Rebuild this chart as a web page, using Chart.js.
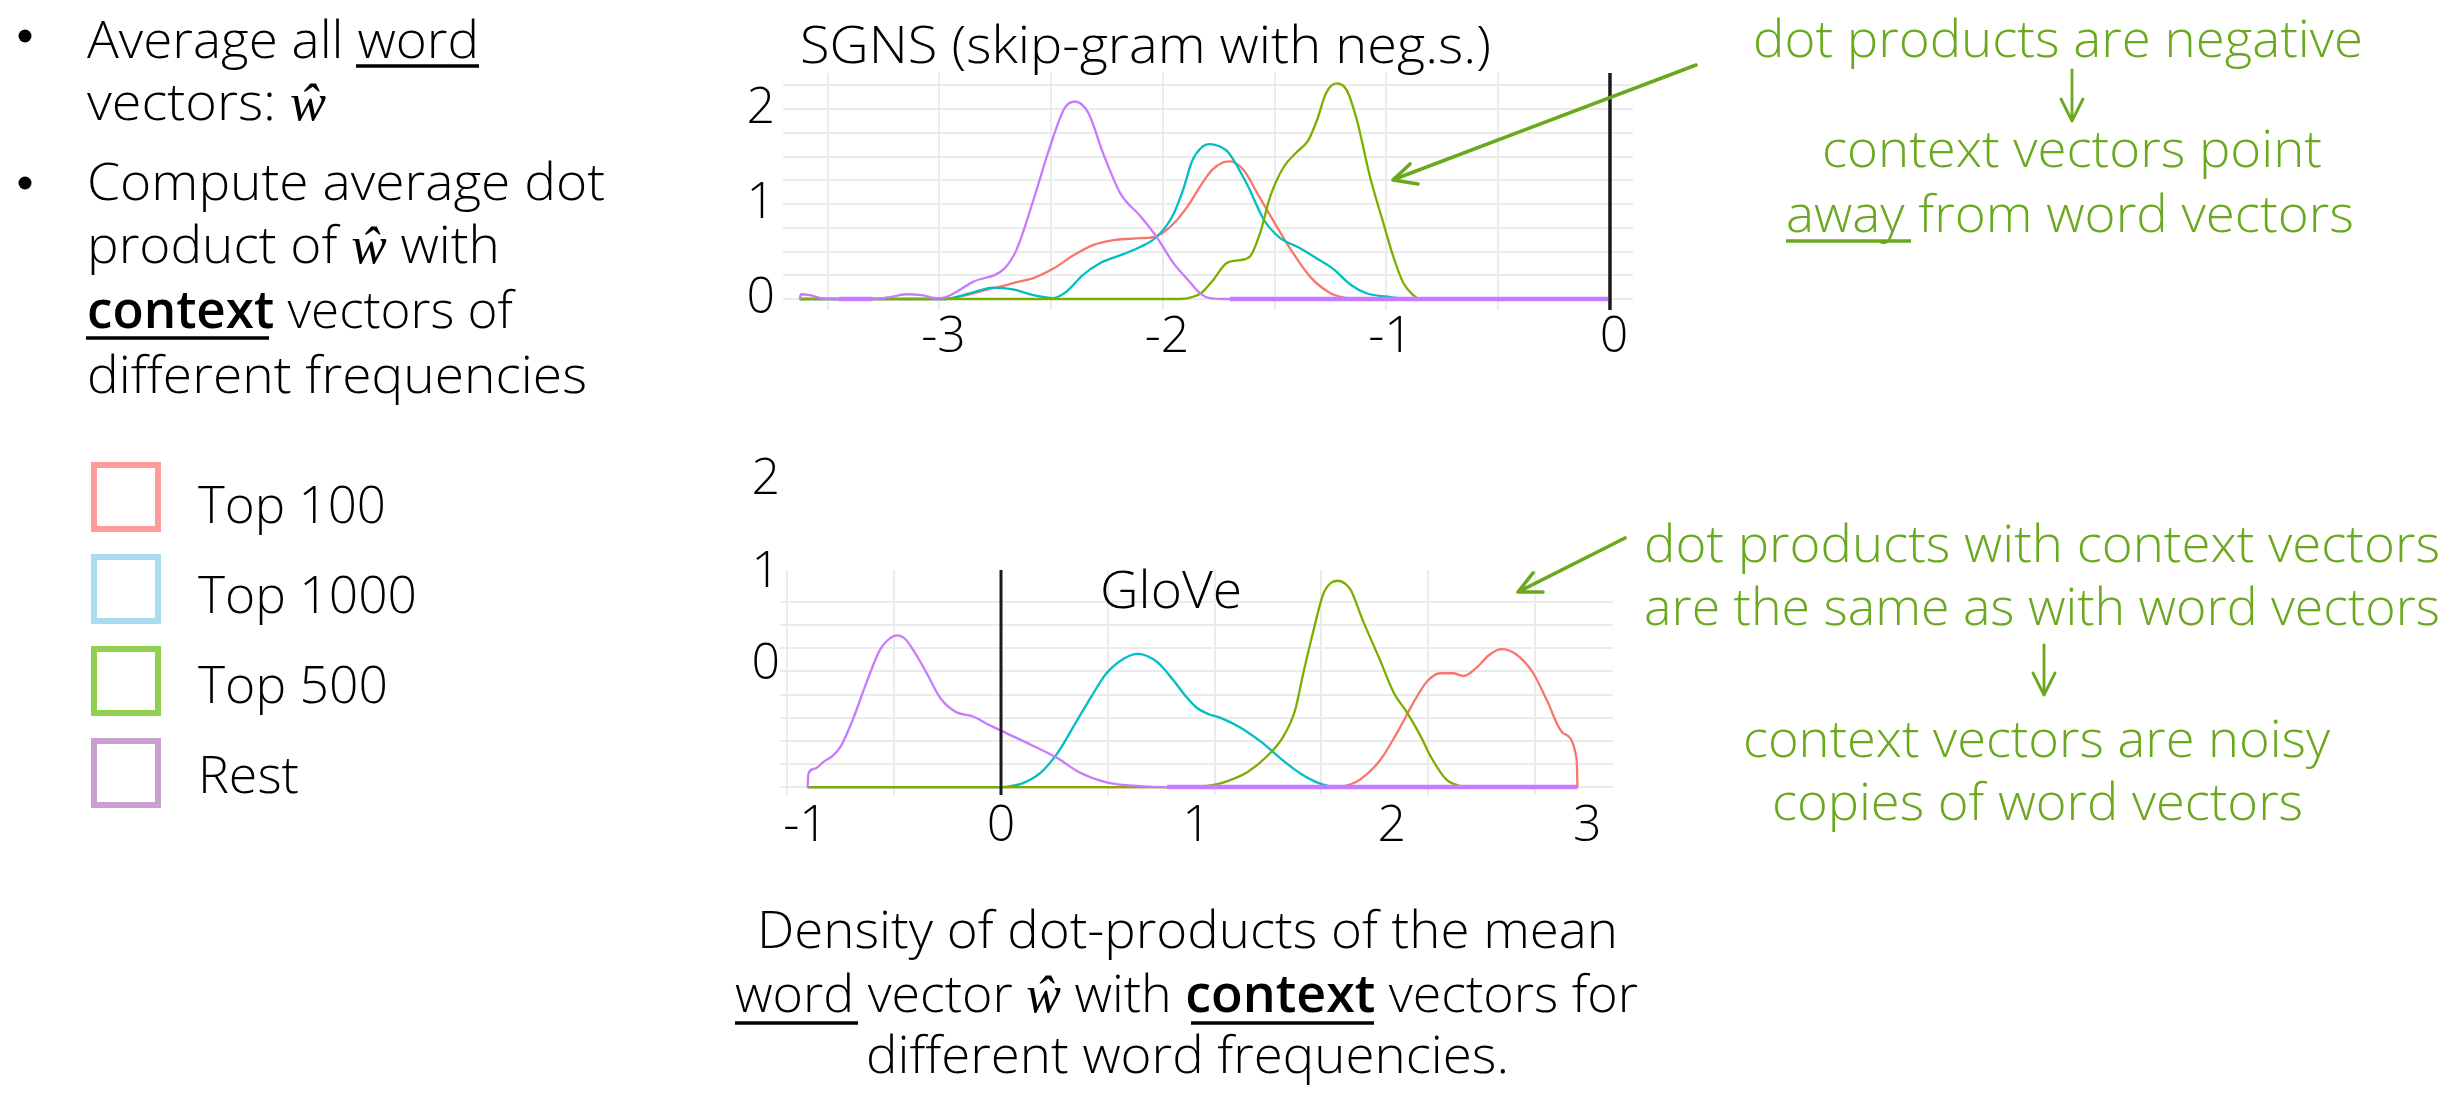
<!DOCTYPE html>
<html><head><meta charset="utf-8">
<script src="https://cdn.jsdelivr.net/npm/chart.js@4.4.1/dist/chart.umd.min.js"></script>
<style>
html,body{margin:0;padding:0;background:#fff;width:2458px;height:1095px;overflow:hidden}
#page{position:relative;width:2458px;height:1095px;background:#fff}
canvas{position:absolute}
#c1{left:700px;top:0px}
#c2{left:700px;top:440px}
#ov{position:absolute;left:0;top:0;pointer-events:none}
#ov text{font-family:'Open Sans',sans-serif;font-weight:300;font-size:52px;fill:#000}
#ov text.g{fill:#6aa81e}
#ov tspan.w{font-family:'Liberation Serif','DejaVu Serif',serif;font-style:italic;font-weight:400}
#ov tspan.b{font-weight:600}
</style></head>
<body><div id="page">
<canvas id="c1" width="1000" height="380"></canvas>
<canvas id="c2" width="1000" height="440"></canvas>
<svg id="ov" width="2458" height="1095" xmlns="http://www.w3.org/2000/svg">
  <!-- left bullets -->
  <circle cx="25" cy="36" r="6.5" fill="#000"/>
  <text x="87" y="58" textLength="392" lengthAdjust="spacingAndGlyphs">Average all word</text>
  <line x1="356" y1="66" x2="479" y2="66" stroke="#000" stroke-width="3.5"/>
  <text x="87" y="120" textLength="239" lengthAdjust="spacingAndGlyphs">vectors: <tspan class="w">ŵ</tspan></text>
  <circle cx="25" cy="183" r="6.5" fill="#000"/>
  <text x="87" y="200" textLength="518" lengthAdjust="spacingAndGlyphs">Compute average dot</text>
  <text x="87" y="263" textLength="413" lengthAdjust="spacingAndGlyphs">product of <tspan class="w">ŵ</tspan> with</text>
  <text x="87" y="328" textLength="426" lengthAdjust="spacingAndGlyphs"><tspan class="b">context</tspan> vectors of</text>
  <line x1="86" y1="338" x2="269" y2="338" stroke="#000" stroke-width="3.5"/>
  <text x="87" y="393" textLength="500" lengthAdjust="spacingAndGlyphs">different frequencies</text>
  <g id="legend"></g>
  <!-- chart titles -->
  <text x="800" y="63" textLength="691" lengthAdjust="spacingAndGlyphs">SGNS (skip-gram with neg.s.)</text>
  <text x="1100" y="608" textLength="142" lengthAdjust="spacingAndGlyphs">GloVe</text>
  <!-- green annotations -->
  <text class="g" x="1753" y="57" textLength="610" lengthAdjust="spacingAndGlyphs">dot products are negative</text>
  <g stroke="#6aa81e" stroke-width="2.8" fill="none" stroke-linecap="round" stroke-linejoin="round">
    <line x1="2072" y1="70" x2="2072" y2="120"/>
    <polyline points="2061,99 2072,121 2083,99"/>
    <line x1="2044" y1="645" x2="2044" y2="694"/>
    <polyline points="2033,673 2044,695 2055,673"/>
  </g>
  <g stroke="#6aa81e" stroke-width="3.6" fill="none" stroke-linecap="round" stroke-linejoin="round">
    <line x1="1696" y1="65" x2="1395" y2="179"/>
    <polyline points="1410,164 1393,180 1418,184"/>
    <line x1="1625" y1="538" x2="1520" y2="591"/>
    <polyline points="1533,573 1518,592 1543,592"/>
  </g>
  <text class="g" x="1822" y="167" textLength="500" lengthAdjust="spacingAndGlyphs">context vectors point</text>
  <text class="g" x="1786" y="232" textLength="568" lengthAdjust="spacingAndGlyphs">away from word vectors</text>
  <line x1="1786" y1="241" x2="1911" y2="241" stroke="#6aa81e" stroke-width="3.5"/>
  <text class="g" x="1644" y="562" textLength="796" lengthAdjust="spacingAndGlyphs">dot products with context vectors</text>
  <text class="g" x="1644" y="625" textLength="796" lengthAdjust="spacingAndGlyphs">are the same as with word vectors</text>
  <text class="g" x="1743" y="757" textLength="587" lengthAdjust="spacingAndGlyphs">context vectors are noisy</text>
  <text class="g" x="1772" y="820" textLength="531" lengthAdjust="spacingAndGlyphs">copies of word vectors</text>
  <!-- caption -->
  <text x="757" y="948" textLength="861" lengthAdjust="spacingAndGlyphs">Density of dot-products of the mean</text>
  <text x="735" y="1012" textLength="903" lengthAdjust="spacingAndGlyphs">word vector <tspan class="w">ŵ</tspan> with <tspan class="b">context</tspan> vectors for</text>
  <line x1="735" y1="1023" x2="858" y2="1023" stroke="#000" stroke-width="3.5"/>
  <line x1="1191" y1="1023" x2="1374" y2="1023" stroke="#000" stroke-width="3.5"/>
  <text x="866" y="1073" textLength="643" lengthAdjust="spacingAndGlyphs">different word frequencies.</text>
</svg>
</div>
<script>
// ---------- data ----------
const seriesNames = ['Top 100', 'Top 1000', 'Top 500', 'Rest'];
const lineColors = ['#F8766D', '#00BFC4', '#7CAE00', '#C77CFF'];
const legendColors = ['#FF9B9B', '#A8DCEE', '#92D14F', '#C9A1CF'];

// SGNS densities [dot product, density]
const sgnsTop100 = [[-3.625,0],[-2.98,0],[-2.90,0.03],[-2.80,0.09],[-2.73,0.13],[-2.65,0.18],[-2.58,0.22],[-2.49,0.32],[-2.40,0.46],[-2.31,0.57],[-2.22,0.62],[-2.10,0.64],[-2.03,0.66],[-1.95,0.80],[-1.88,1.01],[-1.83,1.20],[-1.78,1.36],[-1.73,1.44],[-1.70,1.45],[-1.64,1.36],[-1.57,1.08],[-1.49,0.76],[-1.42,0.49],[-1.34,0.23],[-1.25,0.06],[-1.18,0.01],[-1.10,0],[-0.01,0]];
const sgnsTop1000 = [[-3.625,0],[-2.97,0],[-2.91,0.03],[-2.85,0.07],[-2.76,0.12],[-2.67,0.10],[-2.58,0.04],[-2.49,0.01],[-2.43,0.08],[-2.36,0.25],[-2.28,0.38],[-2.18,0.47],[-2.10,0.55],[-2.03,0.65],[-1.96,0.86],[-1.91,1.15],[-1.87,1.45],[-1.83,1.59],[-1.79,1.63],[-1.74,1.60],[-1.71,1.55],[-1.62,1.19],[-1.55,0.84],[-1.48,0.65],[-1.39,0.54],[-1.30,0.41],[-1.24,0.32],[-1.16,0.15],[-1.09,0.06],[-0.98,0.02],[-0.89,0],[-0.01,0]];
const sgnsTop500 = [[-3.625,0],[-1.92,0],[-1.87,0.02],[-1.83,0.06],[-1.775,0.20],[-1.715,0.38],[-1.655,0.41],[-1.61,0.45],[-1.566,0.69],[-1.52,1.08],[-1.46,1.39],[-1.40,1.55],[-1.35,1.67],[-1.31,1.89],[-1.27,2.17],[-1.223,2.27],[-1.178,2.20],[-1.133,1.89],[-1.074,1.29],[-1.014,0.80],[-0.97,0.45],[-0.925,0.17],[-0.88,0.04],[-0.85,0],[-0.01,0]];
const sgnsRest = [[-3.625,0],[-3.62,0.05],[-3.58,0.04],[-3.53,0.01],[-3.45,0],[-3.30,0],[-3.22,0.02],[-3.15,0.05],[-3.08,0.04],[-3.01,0.01],[-2.97,0.02],[-2.92,0.08],[-2.85,0.18],[-2.71,0.32],[-2.655,0.52],[-2.58,1.04],[-2.506,1.60],[-2.44,2.01],[-2.394,2.08],[-2.334,1.96],[-2.267,1.53],[-2.19,1.11],[-2.10,0.87],[-2.03,0.66],[-1.954,0.38],[-1.88,0.18],[-1.834,0.06],[-1.79,0.01],[-1.70,0],[-0.01,0]];

// GloVe densities [dot product, density]
const gloveTop100 = [[-0.99,0],[1.735,0],[1.79,0.03],[1.837,0.08],[1.94,0.29],[2.025,0.58],[2.11,0.91],[2.18,1.14],[2.247,1.23],[2.315,1.23],[2.366,1.20],[2.434,1.29],[2.50,1.43],[2.562,1.49],[2.639,1.43],[2.724,1.23],[2.793,0.94],[2.878,0.58],[2.946,0.30],[2.95,0]];
const gloveTop1000 = [[-0.99,0],[0.0,0],[0.05,0.01],[0.11,0.04],[0.20,0.15],[0.29,0.37],[0.37,0.65],[0.46,0.97],[0.54,1.23],[0.63,1.39],[0.70,1.44],[0.80,1.35],[0.88,1.16],[0.95,0.97],[1.00,0.86],[1.06,0.79],[1.12,0.75],[1.22,0.65],[1.33,0.49],[1.43,0.31],[1.53,0.15],[1.63,0.04],[1.72,0],[2.95,0]];
const gloveTop500 = [[-0.99,0],[1.00,0],[1.08,0.02],[1.14,0.05],[1.26,0.16],[1.36,0.33],[1.443,0.54],[1.505,0.83],[1.547,1.23],[1.60,1.70],[1.65,2.09],[1.69,2.21],[1.726,2.23],[1.76,2.20],[1.79,2.13],[1.85,1.81],[1.94,1.37],[2.01,1.02],[2.08,0.80],[2.14,0.58],[2.21,0.29],[2.28,0.08],[2.35,0.01],[2.40,0],[2.95,0]];
const gloveRest = [[-0.99,0],[-0.985,0.15],[-0.95,0.20],[-0.91,0.27],[-0.86,0.34],[-0.82,0.44],[-0.76,0.72],[-0.69,1.12],[-0.62,1.48],[-0.56,1.62],[-0.53,1.64],[-0.49,1.60],[-0.44,1.45],[-0.38,1.23],[-0.31,0.96],[-0.23,0.81],[-0.14,0.76],[-0.06,0.67],[0.03,0.58],[0.16,0.45],[0.29,0.31],[0.40,0.16],[0.54,0.05],[0.71,0.01],[0.85,0],[2.95,0]];

// ticks
const sgnsXGrid = [-3.5,-3,-2.5,-2,-1.5,-1,-0.5,0];
const sgnsXLabels = [-3,-2,-1,0];
const sgnsYGrid = [0,0.25,0.5,0.75,1,1.25,1.5,1.75,2,2.25];
const sgnsYLabels = [0,1,2];
const gloveXLabels = [-1,0,1,2,3];
const gloveXGrid = [-1,-0.5,0,0.5,1,1.5,2,2.5];
const gloveYGrid = [0,0.25,0.5,0.75,1,1.25,1.5,1.75,2];
const gloveYLabels = [0,1,2];

// ---------- legend (slide) ----------
(function(){
  const g = document.getElementById('legend');
  const NS = 'http://www.w3.org/2000/svg';
  const widths = [188, 219, 190, 101];
  seriesNames.forEach((name, i) => {
    const r = document.createElementNS(NS, 'rect');
    r.setAttribute('x', 94); r.setAttribute('y', 465 + i*92);
    r.setAttribute('width', 64); r.setAttribute('height', 64);
    r.setAttribute('fill', 'none'); r.setAttribute('stroke', legendColors[i]); r.setAttribute('stroke-width', 6);
    g.appendChild(r);
    const t = document.createElementNS(NS, 'text');
    t.setAttribute('x', 198); t.setAttribute('y', 523 + i*90);
    t.setAttribute('textLength', widths[i]); t.setAttribute('lengthAdjust', 'spacingAndGlyphs');
    t.textContent = name;
    g.appendChild(t);
  });
})();

// ---------- charts ----------
const FONT = "'Open Sans', sans-serif";
const drawOrder = [3, 2, 1, 0];
function pts(a){ return a.map(p => ({x: p[0], y: p[1]})); }
function ds(i, data){
  return {
    label: seriesNames[i],
    data: pts(data),
    borderColor: lineColors[i],
    borderWidth: 2.3,
    pointRadius: 0,
    fill: false,
    cubicInterpolationMode: 'monotone',
    borderJoinStyle: 'round',
    order: drawOrder[i],
    segment: {
      borderWidth: c => (i === 3 && c.p0.parsed.y === 0 && c.p1.parsed.y === 0) ? 4.5 : 2.3
    }
  };
}
const zeroLine = {
  id: 'zeroLine',
  afterDatasetsDraw(chart, args, opts){
    const {ctx, chartArea} = chart;
    const px = chart.scales.x.getPixelForValue(0);
    ctx.save();
    ctx.strokeStyle = opts.color; ctx.lineWidth = opts.width;
    ctx.beginPath(); ctx.moveTo(px, chartArea.top); ctx.lineTo(px, chartArea.bottom); ctx.stroke();
    ctx.restore();
  }
};
const gridStyle = () => ({color: '#ebebeb', lineWidth: 2, drawTicks: false});
const tickFont = {family: FONT, size: 50, weight: 300, lineHeight: 1.1};

new Chart(document.getElementById('c1'), {
  type: 'line',
  data: {datasets: [ds(0, sgnsTop100), ds(1, sgnsTop1000), ds(2, sgnsTop500), ds(3, sgnsRest)]},
  options: {
    responsive: false, animation: false, devicePixelRatio: 1,
    layout: {padding: {top: 73, right: 67, bottom: 0, left: 0}},
    plugins: {legend: {display: false}, tooltip: {enabled: false}, zeroLine: {color: '#1a1a1a', width: 3.5}},
    scales: {
      x: {
        type: 'linear', position: 'bottom', min: -3.70, max: 0.103,
        afterBuildTicks: s => { s.ticks = sgnsXGrid.map(v => ({value: v})); },
        afterFit: s => { s.height = 70; },
        ticks: {autoSkip: false, maxRotation: 0, padding: 0, labelOffset: 4, color: '#000', font: tickFont,
                callback: v => sgnsXLabels.includes(v) ? String(v) : ''},
        grid: gridStyle(), border: {display: false}
      },
      y: {
        type: 'linear', position: 'left', min: -0.116, max: 2.38,
        afterBuildTicks: s => { s.ticks = sgnsYGrid.map(v => ({value: v})); },
        afterFit: s => { s.width = 83; },
        ticks: {autoSkip: false, padding: 8, color: '#000', font: tickFont,
                callback: v => sgnsYLabels.includes(v) ? String(v) : ''},
        grid: gridStyle(), border: {display: false}
      }
    }
  },
  plugins: [zeroLine]
});

new Chart(document.getElementById('c2'), {
  type: 'line',
  data: {datasets: [ds(0, gloveTop100), ds(1, gloveTop1000), ds(2, gloveTop500), ds(3, gloveRest)]},
  options: {
    responsive: false, animation: false, devicePixelRatio: 1,
    layout: {padding: {top: 130, right: 87, bottom: 0, left: 0}},
    plugins: {legend: {display: false}, tooltip: {enabled: false}, zeroLine: {color: '#1a1a1a', width: 3}},
    scales: {
      x: {
        type: 'linear', position: 'bottom', min: -1.131, max: 3.132,
        afterBuildTicks: s => { s.ticks = gloveXLabels.map(v => ({value: v})); },
        afterFit: s => { s.height = 85; },
        ticks: {autoSkip: false, maxRotation: 0, padding: -4, color: '#000', font: tickFont,
                callback: v => String(v)},
        grid: {display: false}, border: {display: false}
      },
      xg: {
        type: 'linear', position: 'top', min: -1.035, max: 2.866,
        afterBuildTicks: s => { s.ticks = gloveXGrid.map(v => ({value: v})); },
        afterFit: s => { s.height = 0; },
        ticks: {display: false},
        grid: gridStyle(), border: {display: false}
      },
      y: {
        type: 'linear', position: 'left', min: -0.086, max: 2.346,
        afterBuildTicks: s => { s.ticks = gloveYGrid.map(v => ({value: v})); },
        afterFit: s => { s.width = 80; },
        ticks: {autoSkip: false, padding: 0, labelOffset: -122, color: '#000', font: tickFont,
                callback: v => gloveYLabels.includes(v) ? String(v) : ''},
        grid: gridStyle(), border: {display: false}
      }
    }
  },
  plugins: [zeroLine]
});
</script>
</body></html>
